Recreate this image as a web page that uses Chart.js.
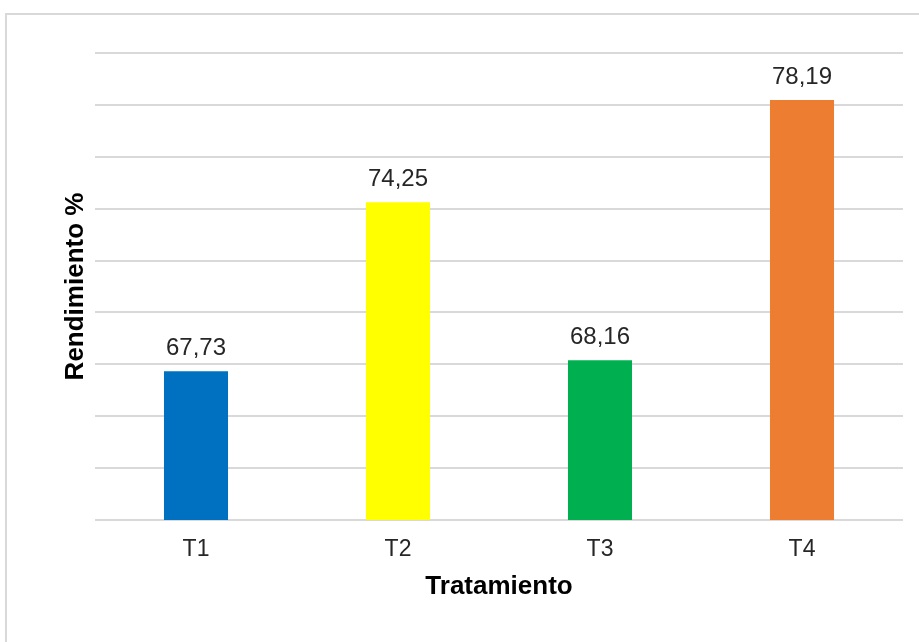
<!DOCTYPE html>
<html>
<head>
<meta charset="utf-8">
<script src="https://cdn.jsdelivr.net/npm/chart.js@4"></script>
<style>
  html, body { margin: 0; padding: 0; background: #fff; overflow: hidden; }
  #wrap { position: relative; width: 919px; height: 642px; }
  #frame { position: absolute; left: 5px; top: 13px; width: 960px; height: 700px; border: 2px solid #d9d9d9; box-sizing: border-box; }
  #myChart { position: absolute; left: 0; top: 0; }
</style>
</head>
<body>
<div id="wrap">
  <div id="frame"></div>
  <canvas id="myChart" width="919" height="642"></canvas>
</div>
<script>
const categories = ['T1', 'T2', 'T3', 'T4'];
const rendimiento = [67.73, 74.25, 68.16, 78.19];
const barColors = ['#0070C0', '#FFFF00', '#00B050', '#ED7D31'];
const yMin = 62;
const yMax = 80;
const yStep = 2;

const fontFamily = "'Liberation Sans', Arial, sans-serif";

// etiquetas de valor encima de cada barra, con coma decimal
const valueLabels = {
  id: 'valueLabels',
  afterDatasetsDraw(chart) {
    const ctx = chart.ctx;
    const meta = chart.getDatasetMeta(0);
    ctx.save();
    ctx.font = '24px ' + fontFamily;
    ctx.fillStyle = '#262626';
    ctx.textAlign = 'center';
    ctx.textBaseline = 'alphabetic';
    meta.data.forEach((bar, i) => {
      const txt = rendimiento[i].toFixed(2).replace('.', ',');
      ctx.fillText(txt, bar.x, bar.y - 16);
    });
    ctx.restore();
  }
};

let ctx = document.getElementById('myChart').getContext('2d');
let myChart = new Chart(ctx, {
  type: 'bar',
  data: {
    labels: categories,
    datasets: [{
      data: rendimiento,
      backgroundColor: barColors,
      borderWidth: 0,
      barPercentage: 0.317,
      categoryPercentage: 1.0
    }]
  },
  options: {
    responsive: false,
    animation: false,
    layout: {
      padding: { top: 53, right: 16, left: 0, bottom: 0 }
    },
    plugins: {
      legend: { display: false },
      tooltip: { enabled: false }
    },
    scales: {
      x: {
        grid: { display: false, drawTicks: false },
        border: { display: false },
        ticks: {
          color: '#262626',
          padding: 16,
          font: { family: fontFamily, size: 23 }
        },
        title: {
          display: true,
          text: 'Tratamiento',
          color: '#000',
          font: { family: fontFamily, size: 26, weight: 'bold' },
          padding: { top: 0, bottom: 40 }
        },
        afterFit(scale) { scale.height = 122; }
      },
      y: {
        min: yMin,
        max: yMax,
        grid: { color: '#d9d9d9', lineWidth: 2, drawTicks: false },
        border: { display: false },
        ticks: { display: false, stepSize: yStep },
        title: {
          display: true,
          text: 'Rendimiento %',
          color: '#000',
          font: { family: fontFamily, size: 26, weight: 'bold' },
          padding: { top: 60, bottom: 0 }
        },
        afterFit(scale) { scale.width = 95; }
      }
    }
  },
  plugins: [valueLabels]
});
</script>
</body>
</html>
